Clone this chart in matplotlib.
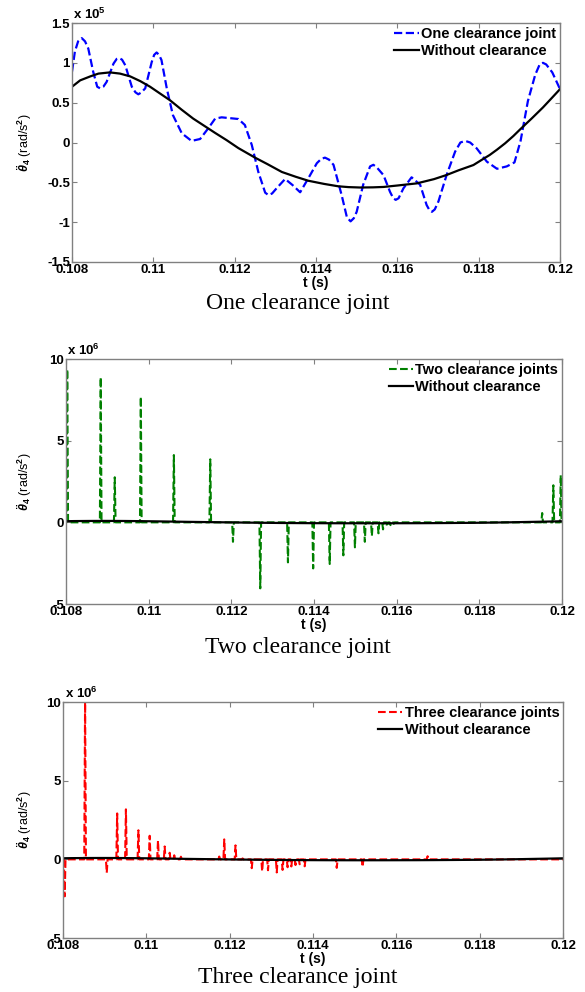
import matplotlib
matplotlib.use('Agg')
import matplotlib.pyplot as plt

plt.rcParams['font.family'] = ['Liberation Sans', 'DejaVu Sans']
plt.rcParams['font.weight'] = 'bold'
plt.rcParams['mathtext.fontset'] = 'custom'
plt.rcParams['mathtext.rm'] = 'Liberation Sans'
plt.rcParams['mathtext.it'] = 'Liberation Sans:italic'
plt.rcParams['mathtext.bf'] = 'Liberation Sans:bold'

# time axis (s)
x_ticks = [0.108, 0.110, 0.112, 0.114, 0.116, 0.118, 0.120]
x_tick_labels = ['0.108', '0.11', '0.112', '0.114', '0.116', '0.118', '0.12']

# without clearance, units of 1e5 rad/s^2
t_ref = [0.1080, 0.1082, 0.10845, 0.10865, 0.10893, 0.10918, 0.10943, 0.10968,
         0.10992, 0.11015, 0.11041, 0.1107, 0.11098, 0.11125, 0.11152, 0.1118,
         0.11209, 0.1125, 0.1128, 0.11316, 0.1135, 0.11381, 0.1142, 0.11455,
         0.1148, 0.11508, 0.1154, 0.11566, 0.1160, 0.11648, 0.1169, 0.11721,
         0.1175, 0.11787, 0.1181, 0.11827, 0.11845, 0.11865, 0.11885, 0.11903,
         0.1193, 0.11958, 0.1198, 0.1200]
a_ref = [0.70, 0.78, 0.83, 0.865, 0.88, 0.865, 0.83, 0.77,
         0.70, 0.62, 0.53, 0.41, 0.30, 0.21, 0.12, 0.03,
         -0.07, -0.19, -0.27, -0.37, -0.43, -0.48, -0.52, -0.55,
         -0.56, -0.565, -0.563, -0.558, -0.54, -0.513, -0.46, -0.408,
         -0.35, -0.283, -0.21, -0.157, -0.09, -0.01, 0.08, 0.17,
         0.30, 0.44, 0.56, 0.67]

# one clearance joint, units of 1e5 rad/s^2
t_one = [0.1080, 0.10807, 0.10815, 0.10824, 0.10832, 0.1084, 0.10852, 0.10862,
         0.10869, 0.10877, 0.10885, 0.10902, 0.1091, 0.10916, 0.10923, 0.10931,
         0.10947, 0.10956, 0.10963, 0.10971, 0.1098, 0.10996, 0.11002, 0.11008,
         0.11014, 0.1102, 0.11033, 0.11048, 0.1107, 0.11094, 0.11115, 0.11135,
         0.11152, 0.11168, 0.11209, 0.11225, 0.11242, 0.11258, 0.11275, 0.11283,
         0.11292, 0.11303, 0.11324, 0.11342, 0.11361, 0.11381, 0.11402, 0.11413,
         0.11422, 0.11432, 0.11443, 0.11463, 0.11476, 0.11485, 0.11493, 0.115,
         0.11516, 0.11533, 0.11541, 0.11549, 0.11566, 0.11582, 0.1159, 0.11596,
         0.11603, 0.11615, 0.11635, 0.11656, 0.11672, 0.11679, 0.11685, 0.11692,
         0.11701, 0.11721, 0.11742, 0.11755, 0.11767, 0.11779, 0.11795, 0.1182,
         0.11845, 0.11869, 0.11888, 0.11903, 0.11921, 0.11939, 0.1195, 0.11958,
         0.11966, 0.11981, 0.1200]
a_one = [0.89, 1.14, 1.27, 1.31, 1.27, 1.18, 0.89, 0.70,
         0.68, 0.70, 0.76, 0.99, 1.05, 1.06, 1.04, 0.97,
         0.70, 0.63, 0.605, 0.63, 0.68, 1.01, 1.10, 1.13,
         1.10, 1.035, 0.68, 0.345, 0.115, 0.02, 0.044, 0.178,
         0.30, 0.316, 0.295, 0.22, -0.03, -0.367, -0.63, -0.66,
         -0.64, -0.575, -0.458, -0.533, -0.625, -0.45, -0.26, -0.205,
         -0.19, -0.215, -0.28, -0.66, -0.94, -0.99, -0.95, -0.87,
         -0.53, -0.30, -0.28, -0.31, -0.41, -0.62, -0.70, -0.72,
         -0.70, -0.575, -0.437, -0.53, -0.785, -0.85, -0.87, -0.84,
         -0.74, -0.41, -0.115, 0.0, 0.02, 0.0, -0.073, -0.24,
         -0.33, -0.30, -0.25, 0.02, 0.52, 0.85, 0.98, 1.0,
         0.98, 0.88, 0.67]

# two clearance joints: impact spikes, units of 1e6 rad/s^2
t_two = [0.10803, 0.10884, 0.10918, 0.10981, 0.11061, 0.11149,
         0.11204, 0.1127, 0.11337, 0.11398, 0.11438, 0.11471, 0.11499,
         0.11523, 0.1154, 0.11556, 0.11567, 0.11577, 0.11585, 0.11593,
         0.11952, 0.11979, 0.11997]
a_two = [9.37, 8.88, 2.76, 7.69, 4.12, 3.86,
         -1.19, -4.04, -2.45, -2.82, -2.55, -2.02, -1.53,
         -1.19, -0.84, -0.67, -0.43, -0.27, -0.17, -0.09,
         0.57, 2.27, 2.89]

# three clearance joints: impact spikes, units of 1e6 rad/s^2
t_three = [0.10804, 0.10853, 0.10905, 0.1093, 0.10951, 0.10981, 0.11008,
           0.11028, 0.11044, 0.11056, 0.11067, 0.11083, 0.11175, 0.11187,
           0.11214, 0.11231, 0.11253, 0.11278, 0.11292, 0.11313, 0.11327,
           0.11339, 0.11348, 0.11358, 0.11368, 0.1138, 0.11457, 0.11519,
           0.11675]
a_three = [-2.35, 10.0, -0.85, 2.92, 3.18, 1.85, 1.5,
           1.19, 0.82, 0.42, 0.26, 0.17, 0.18, 1.27,
           0.89, 0.06, -0.56, -0.76, -0.69, -0.83, -0.67,
           -0.5, -0.45, -0.36, -0.31, -0.44, -0.54, -0.48,
           0.2]


def spikes(times, heights, w=0.00002):
    """Turn spike times/heights into a line that jumps up and back to zero."""
    t = [0.108]
    v = [0.0]
    for ti, hi in zip(times, heights):
        t += [ti - w, ti, ti + w]
        v += [0.0, hi, 0.0]
    t.append(0.120)
    v.append(0.0)
    return t, v


def style(ax, yticks, ylabels, exponent, label_x):
    ax.set_xlim(0.108, 0.120)
    ax.set_ylim(yticks[0], yticks[-1])
    ax.set_xticks(x_ticks)
    ax.set_xticklabels(x_tick_labels)
    ax.set_yticks(yticks)
    ax.set_yticklabels(ylabels)
    ax.tick_params(direction='in', top=True, right=True, length=3.5,
                   width=0.8, color='#808080', labelsize=9.5, pad=1.5)
    for s in ax.spines.values():
        s.set_color('#808080')
        s.set_linewidth(1.0)
    ax.set_xlabel('t (s)', fontsize=10, fontweight='bold', labelpad=0)
    ax.set_ylabel(r'$\ddot{\theta}_4$ (rad/s$^2$)', fontsize=9,
                  fontweight='normal')
    ax.yaxis.set_label_coords(label_x, 0.5)
    ax.text(0.003, 1.005, 'x 10$^{%d}$' % exponent, transform=ax.transAxes,
            fontsize=9.5, fontweight='bold', va='bottom', ha='left')
    ax.legend(loc='upper right', frameon=False, fontsize=10.5,
              borderaxespad=0.0, borderpad=0.25, handlelength=1.7,
              handletextpad=0.15, labelspacing=0.22)


fig = plt.figure(figsize=(5.85, 9.92), dpi=100)

# one clearance joint
ax1 = fig.add_axes([0.1231, 0.7359, 0.8342, 0.2409])
ax1.plot(t_one, a_one, '--', color='#0000ff', lw=1.6, label='One clearance joint')
ax1.plot(t_ref, a_ref, '-', color='black', lw=1.6, label='Without clearance')
style(ax1, [-1.5, -1, -0.5, 0, 0.5, 1, 1.5],
      ['-1.5', '-1', '-0.5', '0', '0.5', '1', '1.5'], 5, -0.078)

# two clearance joints
ax2 = fig.add_axes([0.1128, 0.3911, 0.8479, 0.2470])
t2, v2 = spikes(t_two, a_two)
ax2.plot(t2, v2, '--', color='#008000', lw=1.5, label='Two clearance joints')
ax2.plot(t_ref, [a / 10 for a in a_ref], '-', color='black', lw=1.6,
         label='Without clearance')
style(ax2, [-5, 0, 5, 10], ['-5', '0', '5', '10'], 6, -0.065)

# three clearance joints
ax3 = fig.add_axes([0.1077, 0.0544, 0.8547, 0.2379])
t3, v3 = spikes(t_three, a_three)
ax3.plot(t3, v3, '--', color='#ff0000', lw=1.5, label='Three clearance joints')
ax3.plot(t_ref, [a / 10 for a in a_ref], '-', color='black', lw=1.6,
         label='Without clearance')
style(ax3, [-5, 0, 5, 10], ['-5', '0', '5', '10'], 6, -0.058)

# panel captions
for y, text in [(1 - 303 / 992, 'One clearance joint'),
                (1 - 647 / 992, 'Two clearance joint'),
                (1 - 978 / 992, 'Three clearance joint')]:
    fig.text(0.509, y, text, ha='center', va='center', fontsize=17,
             family='Liberation Serif', fontweight='normal')

fig.savefig('out.png', dpi=100)
